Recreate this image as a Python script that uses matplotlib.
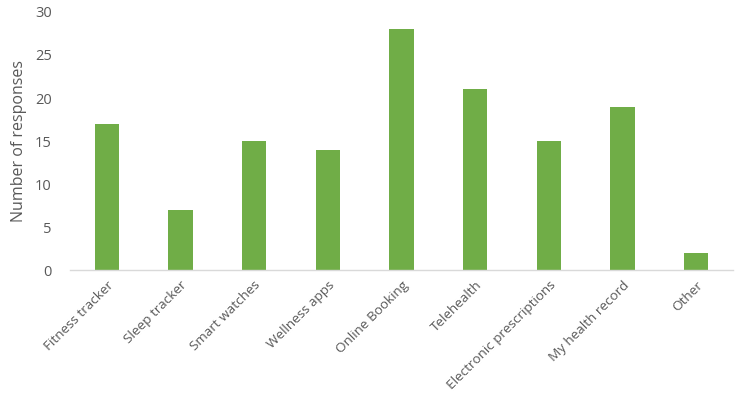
import matplotlib
matplotlib.use("Agg")
import matplotlib.pyplot as plt

categories = ["Fitness tracker", "Sleep tracker", "Smart watches", "Wellness apps",
              "Online Booking", "Telehealth", "Electronic prescriptions",
              "My health record", "Other"]
responses = [17, 7, 15, 14, 28, 21, 15, 19, 2]
yticks = [0, 5, 10, 15, 20, 25, 30]

plt.rcParams["font.family"] = ["Open Sans", "DejaVu Sans"]
txt = "#595959"

fig = plt.figure(figsize=(7.44, 3.99), dpi=100)
ax = fig.add_axes([0.094, 0.323, 0.891, 0.647])
x = range(len(categories))
ax.bar(x, responses, width=0.33, color="#70AD47", zorder=2)
ax.set_xlim(-0.5, len(categories) - 0.5)
ax.set_ylim(0, 30)
ax.set_yticks(yticks)
ax.set_xticks(list(x))
ax.set_xticklabels(categories, rotation=45, ha="right", rotation_mode="anchor")
ax.tick_params(axis="y", length=0, colors=txt, labelsize=10.5, pad=13)
ax.tick_params(axis="x", length=0, colors=txt, labelsize=9.7, pad=6)
for s in ["top", "right", "left"]:
    ax.spines[s].set_visible(False)
ax.spines["bottom"].set_color("#D9D9D9")
ax.spines["bottom"].set_linewidth(1)
ax.set_ylabel("Number of responses", color=txt, fontsize=11.5, labelpad=6)
fig.savefig("out.png", dpi=100)
